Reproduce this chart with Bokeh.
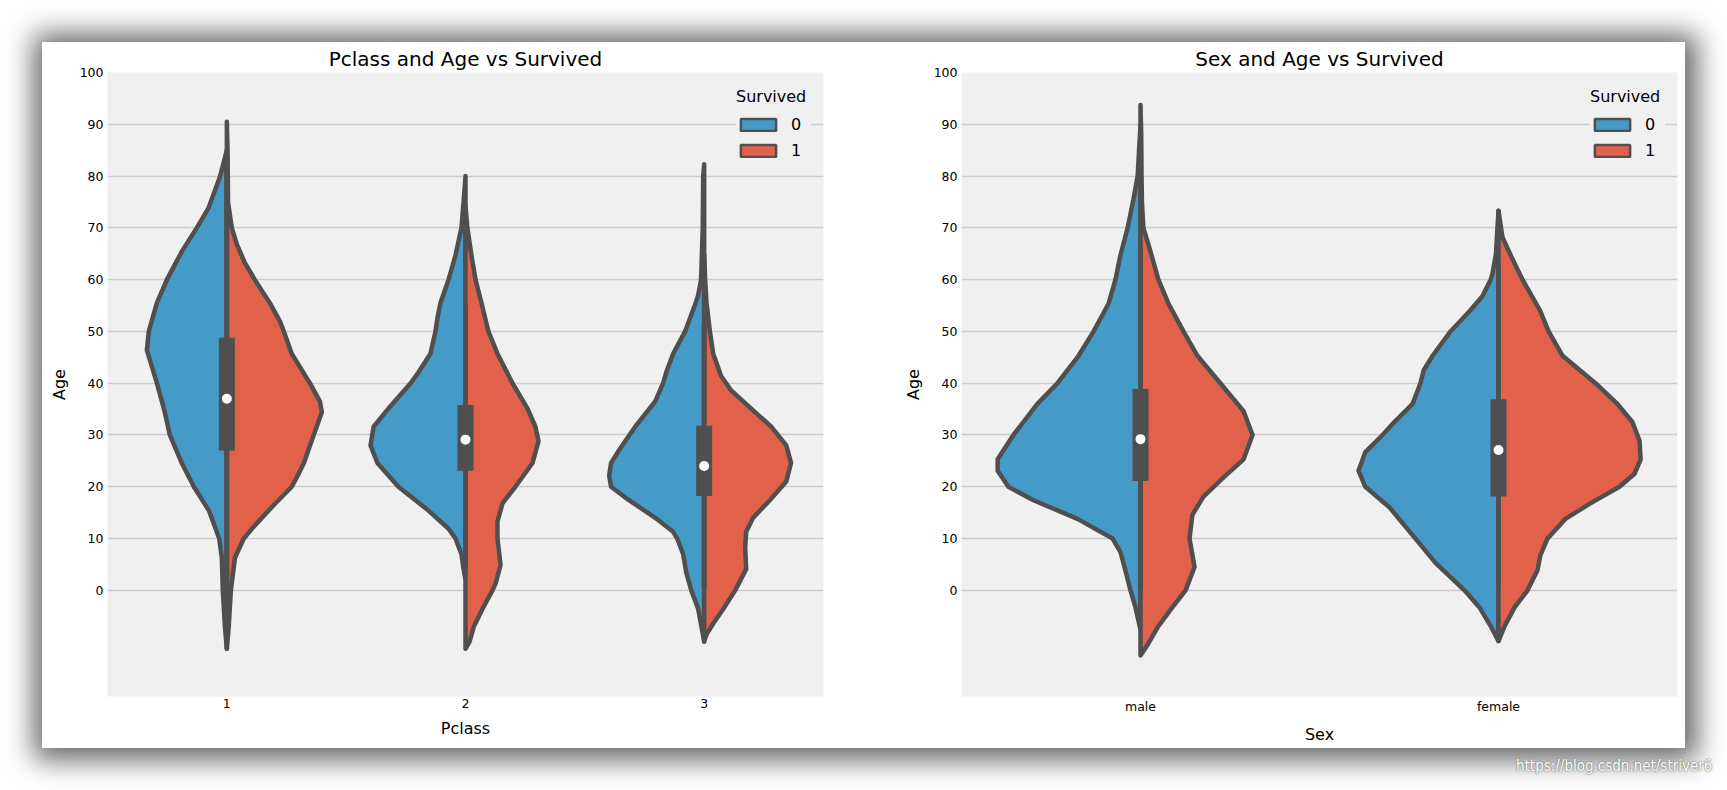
from bokeh.plotting import figure
from bokeh.models import (FactorRange, Range1d, FixedTicker, Legend, LegendItem,
                          ColumnDataSource, Div, Row, Column)
from bokeh.embed import file_html
from bokeh.resources import INLINE

# ---------------- data ----------------
pclass_categories = ["1", "2", "3"]
sex_categories = ["male", "female"]
age_ticks = [0, 10, 20, 30, 40, 50, 60, 70, 80, 90, 100]
survived_labels = ["0", "1"]

# half-violin profiles: ages and half widths (category units)
p1_died_age = [-11.3, -7, 0, 6.3, 10, 15.4, 20, 24.6, 30, 34.4, 40, 46.4, 50, 55.5, 60, 65.4, 70, 73.8, 80, 85]
p1_died_w = [0, 0.008, 0.017, 0.021, 0.032, 0.075, 0.138, 0.189, 0.239, 0.26, 0.293, 0.335, 0.327, 0.293, 0.251, 0.189, 0.126, 0.077, 0.028, 0]
p1_surv_age = [-11.3, -7, 0, 6.3, 10, 11.9, 16.1, 20, 21.8, 24.6, 30, 34.4, 36.5, 40, 45.7, 50, 52, 55.5, 60, 63.3, 66.8, 70, 75, 80, 85, 90.5]
p1_surv_w = [0, 0.008, 0.017, 0.034, 0.071, 0.105, 0.189, 0.272, 0.293, 0.323, 0.364, 0.398, 0.39, 0.348, 0.272, 0.239, 0.222, 0.18, 0.117, 0.075, 0.042, 0.021, 0.005, 0.004, 0.003, 0]

p2_died_age = [2, 4.1, 7, 10, 11.9, 15.4, 20, 24.6, 28, 31.6, 35.1, 40, 42.1, 45.7, 50, 52.7, 55.5, 60, 64.7, 70, 75, 80]
p2_died_w = [0, 0.008, 0.017, 0.042, 0.071, 0.155, 0.281, 0.369, 0.398, 0.385, 0.323, 0.23, 0.197, 0.147, 0.126, 0.117, 0.105, 0.071, 0.042, 0.017, 0.008, 0]
p2_surv_age = [-11.3, -9.9, -7.1, -3.6, 0, 1.3, 4.9, 10, 13.3, 16.8, 20, 24.6, 28.8, 31.6, 35.1, 40, 45.7, 50, 55.5, 60, 64.7, 70, 74.2]
p2_surv_w = [0, 0.017, 0.034, 0.071, 0.113, 0.126, 0.147, 0.134, 0.134, 0.155, 0.209, 0.281, 0.306, 0.293, 0.26, 0.197, 0.134, 0.096, 0.067, 0.042, 0.025, 0.008, 0]

p3_died_age = [-9.9, -7.1, -3.6, 0, 3.4, 7, 10, 11.3, 14, 17.5, 20, 22.1, 24.6, 27.4, 31.6, 36.5, 40, 42.1, 45.7, 50, 55.2, 57, 60, 70, 80, 82.3]
p3_died_w = [0, 0.011, 0.025, 0.054, 0.075, 0.088, 0.113, 0.13, 0.205, 0.318, 0.39, 0.398, 0.39, 0.352, 0.289, 0.205, 0.172, 0.159, 0.13, 0.08, 0.038, 0.025, 0.013, 0.006, 0.004, 0]
p3_surv_age = [-9.9, -8.5, -6.4, -3.6, 0, 4.1, 8.4, 11.3, 14, 17.5, 21, 24.6, 28, 31.6, 35.1, 38.6, 41.4, 45.7, 50, 55.5, 60, 65]
p3_surv_w = [0, 0.01, 0.038, 0.08, 0.13, 0.176, 0.172, 0.176, 0.205, 0.277, 0.344, 0.364, 0.344, 0.281, 0.197, 0.113, 0.071, 0.038, 0.024, 0.01, 0.004, 0]

male_died_age = [-7.6, -3.3, 0, 3.8, 7.4, 10, 13.8, 17.4, 20, 23.1, 25.3, 30, 36, 40, 45.3, 50, 55.4, 60, 64.7, 70, 75.4, 80, 85, 89.7]
male_died_w = [0, 0.014, 0.028, 0.042, 0.056, 0.078, 0.176, 0.299, 0.369, 0.399, 0.399, 0.355, 0.288, 0.232, 0.173, 0.131, 0.089, 0.07, 0.056, 0.036, 0.02, 0.008, 0.004, 0]
male_surv_age = [-12.6, -10.5, -6.9, -3.3, 0, 4.5, 10, 14.6, 18.1, 21.8, 25.3, 30, 34.6, 40, 45.3, 50, 55.4, 60, 65.4, 70, 75, 80, 88, 93.7]
male_surv_w = [0, 0.02, 0.05, 0.089, 0.126, 0.151, 0.137, 0.145, 0.176, 0.232, 0.288, 0.313, 0.288, 0.223, 0.159, 0.12, 0.078, 0.05, 0.028, 0.008, 0.004, 0.003, 0.002, 0]

female_died_age = [-9.8, -6.9, -3.3, 0, 5.3, 10, 16, 20, 23.1, 26.7, 30, 32.5, 36, 40, 42.5, 45.3, 50, 53.9, 56.8, 60, 61.1, 65, 70, 73.3]
female_died_w = [0, 0.022, 0.053, 0.095, 0.176, 0.232, 0.304, 0.372, 0.391, 0.372, 0.324, 0.291, 0.24, 0.218, 0.209, 0.184, 0.134, 0.081, 0.045, 0.022, 0.017, 0.007, 0.003, 0]
female_surv_age = [-9.8, -6.9, -3.3, 0, 3.9, 6.8, 10, 13.8, 16.7, 20, 22.5, 25.3, 28.9, 32.5, 36, 40, 45.3, 50, 53.9, 60, 64.7, 68.2, 73.3]
female_surv_w = [0, 0.017, 0.045, 0.081, 0.109, 0.117, 0.137, 0.187, 0.254, 0.338, 0.38, 0.397, 0.394, 0.374, 0.332, 0.271, 0.179, 0.14, 0.117, 0.067, 0.034, 0.011, 0]

# box statistics per category (q1, median, q3, lower whisker, upper whisker)
pclass_q1 = [27.0, 23.1, 18.2]
pclass_median = [37.0, 29.1, 24.0]
pclass_q3 = [48.8, 35.8, 31.8]
pclass_whisker_lo = [1.0, 4.0, 0.5]
pclass_whisker_hi = [84.0, 55.0, 51.3]

sex_q1 = [21.1, 18.1]
sex_median = [29.2, 27.1]
sex_q3 = [38.9, 36.9]
sex_whisker_lo = [0.5, 1.0]
sex_whisker_hi = [66.0, 63.0]

# ---------------- style ----------------
BLUE = "#459bc8"
RED = "#e2614a"
GRAY = "#4f4f4f"
BG = "#f0f0f0"
GRID = "#cbcbcb"
FONT = "DejaVu Sans"
NAN = float("nan")


def half_polygon(cat, ages, widths, sign):
    xs = [(cat, sign * w) for w in widths] + [(cat, 0.0), (cat, 0.0)]
    ys = list(ages) + [ages[-1], ages[0]]
    return xs, ys


def make_fig(title, xlabel, cats, died, surv, q1, med, q3, wlo, whi, left_border, right_border):
    p = figure(x_range=FactorRange(*cats, range_padding=0), y_range=Range1d(-20.5, 100),
               frame_width=716, frame_height=624,
               min_border_left=left_border, min_border_right=right_border,
               min_border_top=30, min_border_bottom=52,
               output_backend="svg", toolbar_location=None, title=title)
    p.background_fill_color = BG
    p.border_fill_color = "white"
    p.outline_line_color = None

    p.title.text_font = FONT
    p.title.text_font_size = "20px"
    p.title.text_font_style = "normal"
    p.title.text_color = "#000000"
    p.title.align = "center"
    p.title.standoff = 4

    p.yaxis.ticker = FixedTicker(ticks=age_ticks)
    for ax in (p.xaxis[0], p.yaxis[0]):
        ax.axis_line_color = None
        ax.major_tick_line_color = None
        ax.minor_tick_line_color = None
        ax.major_tick_out = 0
        ax.major_tick_in = 0
        ax.minor_tick_out = 0
        ax.minor_tick_in = 0
        ax.major_label_text_font = FONT
        ax.major_label_text_font_size = "12.5px"
        ax.major_label_text_color = "#000000"
        ax.axis_label_text_font = FONT
        ax.axis_label_text_font_size = "16px"
        ax.axis_label_text_font_style = "normal"
        ax.axis_label_text_color = "#000000"
    p.xaxis.axis_label = xlabel
    p.yaxis.axis_label = "Age"
    p.xaxis.major_label_standoff = 2
    p.yaxis.major_label_standoff = 4
    p.xaxis.axis_label_standoff = 8
    p.yaxis.axis_label_standoff = 8

    p.xgrid.grid_line_color = None
    p.ygrid.grid_line_color = GRID
    p.ygrid.grid_line_width = 1.5

    for cat, (da, dw), (sa, sw) in zip(cats, died, surv):
        xs, ys = half_polygon(cat, da, dw, -1)
        p.patch(x=xs, y=ys, fill_color=BLUE, line_color=GRAY, line_width=4.5, line_join="round")
        xs, ys = half_polygon(cat, sa, sw, 1)
        p.patch(x=xs, y=ys, fill_color=RED, line_color=GRAY, line_width=4.5, line_join="round")

    src = ColumnDataSource(dict(cat=list(cats), q1=q1, med=med, q3=q3, lo=wlo, hi=whi))
    p.segment(x0="cat", y0="lo", x1="cat", y1="hi", source=src, line_color=GRAY, line_width=5)
    p.segment(x0="cat", y0="q1", x1="cat", y1="q3", source=src, line_color=GRAY, line_width=16)
    p.scatter(x="cat", y="med", source=src, marker="circle", size=10, fill_color="white", line_color=None)

    # legend-only glyphs (no visible geometry)
    r0 = p.quad(left=[NAN], right=[NAN], top=[NAN], bottom=[NAN], fill_color=BLUE, line_color=GRAY, line_width=2.5)
    r1 = p.quad(left=[NAN], right=[NAN], top=[NAN], bottom=[NAN], fill_color=RED, line_color=GRAY, line_width=2.5)
    legend = Legend(items=[LegendItem(label=survived_labels[0], renderers=[r0]),
                           LegendItem(label=survived_labels[1], renderers=[r1])],
                    location=(629, 536), title="Survived",
                    title_text_font=FONT, title_text_font_size="16px", title_text_font_style="normal",
                    title_text_color="#000000", title_standoff=8,
                    label_text_font=FONT, label_text_font_size="16px", label_text_color="#000000",
                    glyph_width=44, glyph_height=15, label_height=20, label_standoff=11,
                    spacing=6, padding=8, margin=0,
                    background_fill_color=BG, background_fill_alpha=1.0, border_line_color=None)
    p.add_layout(legend)
    return p


p1 = make_fig("Pclass and Age vs Survived", "Pclass", pclass_categories,
              [(p1_died_age, p1_died_w), (p2_died_age, p2_died_w), (p3_died_age, p3_died_w)],
              [(p1_surv_age, p1_surv_w), (p2_surv_age, p2_surv_w), (p3_surv_age, p3_surv_w)],
              pclass_q1, pclass_median, pclass_q3, pclass_whisker_lo, pclass_whisker_hi, 65, 67)
p2 = make_fig("Sex and Age vs Survived", "Sex", sex_categories,
              [(male_died_age, male_died_w), (female_died_age, female_died_w)],
              [(male_surv_age, male_surv_w), (female_surv_age, female_surv_w)],
              sex_q1, sex_median, sex_q3, sex_whisker_lo, sex_whisker_hi, 71, 8)

card = Row(children=[p1, p2], margin=(42, 0, 0, 42),
           styles={"box-shadow": "2px 2px 26px 10px rgba(0,0,0,0.6)", "background-color": "white"})
mark = Div(text="https://blog.csdn.net/striver6", width=210, height=22, margin=(8, 0, 0, 1516),
           styles={"color": "white", "font-size": "15px", "font-family": "DejaVu Sans Condensed, Liberation Sans Narrow, sans-serif",
                   "text-shadow": "0 0 2px #666, 0 0 1px #888"})
layout = Column(children=[card, mark])

open("out.html", "w").write(file_html(layout, INLINE))
